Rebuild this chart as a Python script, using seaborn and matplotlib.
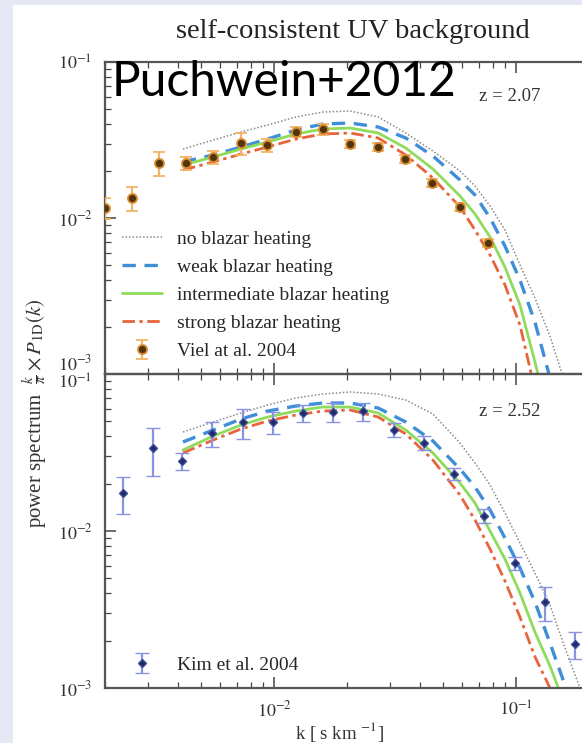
import math
import matplotlib
matplotlib.use("Agg")
import matplotlib.pyplot as plt
from matplotlib.patches import Rectangle
from matplotlib.ticker import LogLocator, NullFormatter, FixedLocator, FixedFormatter
import pandas as pd
import seaborn as sns

# ---------------- data ----------------
# wavenumber grid of the simulated 1D flux power spectra [s/km]
k_model = [0.0042, 0.0056, 0.0073, 0.0094, 0.0123, 0.0159, 0.0206, 0.0269, 0.0350, 0.0453,
           0.0586, 0.0676, 0.0780, 0.0899, 0.1037, 0.1196, 0.1380, 0.1591, 0.1836, 0.2118]

# z = 2.07
p207_none = [0.02768, 0.03162, 0.03557, 0.03947, 0.04441, 0.04779, 0.04850, 0.04441, 0.03506, 0.02688,
             0.02001, 0.01604, 0.01194, 0.00838, 0.00500, 0.00307, 0.00175, 0.000876, 0.000378, 0.00013]
p207_weak = [0.02286, 0.02534, 0.02851, 0.03209, 0.03664, 0.04005, 0.04064, 0.03831, 0.03257, 0.02497,
             0.01752, 0.01404, 0.01000, 0.00661, 0.00400, 0.00215, 0.000943, 0.000351, 0.00011, 0.00003]
p207_inter = [0.02186, 0.02460, 0.02768, 0.03071, 0.03455, 0.03718, 0.03774, 0.03506, 0.02810, 0.02061,
              0.01384, 0.01061, 0.00755, 0.00485, 0.00277, 0.001194, 0.000471, 0.00016, 0.00005, 0.00001]
p207_strong = [0.02031, 0.02286, 0.02572, 0.02851, 0.03209, 0.03455, 0.03506, 0.03257, 0.02534, 0.01805,
               0.01176, 0.00838, 0.00579, 0.00372, 0.00206, 0.000790, 0.000281, 0.00009, 0.00003, 0.00001]

# z = 2.52
p252_none = [0.04272, 0.04947, 0.05643, 0.06346, 0.07035, 0.07457, 0.07679, 0.07457, 0.06831, 0.05561,
             0.03635, 0.02710, 0.01963, 0.01302, 0.00839, 0.00540, 0.00338, 0.00180, 0.00100, 0.000502]
p252_weak = [0.03689, 0.04397, 0.05168, 0.05809, 0.06253, 0.06534, 0.06534, 0.06072, 0.04947, 0.03743,
             0.02483, 0.01906, 0.01361, 0.00902, 0.00581, 0.00353, 0.00193, 0.001045, 0.000502, 0.0002]
p252_inter = [0.03281, 0.04027, 0.04733, 0.05321, 0.05809, 0.06162, 0.06162, 0.05643, 0.04397, 0.03139,
              0.02021, 0.01508, 0.01000, 0.00663, 0.00403, 0.00227, 0.00138, 0.000779, 0.0003, 0.0001]
p252_strong = [0.03139, 0.03799, 0.04465, 0.05019, 0.05481, 0.05809, 0.05896, 0.05321, 0.04148, 0.02832,
               0.01695, 0.01175, 0.00768, 0.00480, 0.00283, 0.00158, 0.00100, 0.000540, 0.0002, 0.00007]

# Viel et al. 2004 (z = 2.07)
k_viel = [0.00200, 0.00259, 0.00334, 0.00433, 0.00558, 0.00727, 0.00938, 0.01232, 0.0159, 0.0206,
          0.0268, 0.0348, 0.0451, 0.0585, 0.0768]
p_viel = [0.01159, 0.01343, 0.02252, 0.02252, 0.02460, 0.03026, 0.02937, 0.03557, 0.03718, 0.02981,
          0.02851, 0.02388, 0.01677, 0.01176, 0.00691]
e_viel = [0.0018, 0.0024, 0.0040, 0.0021, 0.0023, 0.0048, 0.0027, 0.0027, 0.0029, 0.0018,
          0.0017, 0.0015, 0.0010, 0.0007, 0.0004]

# Kim et al. 2004 (z = 2.52)
k_kim = [0.00237, 0.00316, 0.00416, 0.00553, 0.00743, 0.00989, 0.01315, 0.0175, 0.0233, 0.0313,
         0.0416, 0.0553, 0.0736, 0.0989, 0.1315, 0.175]
p_kim = [0.01746, 0.0338, 0.0279, 0.0421, 0.0494, 0.0494, 0.0565, 0.0573, 0.0581, 0.0440,
         0.0364, 0.0231, 0.01247, 0.00625, 0.00353, 0.00191]
e_kim = [0.0046, 0.0115, 0.0035, 0.0077, 0.0108, 0.0078, 0.0070, 0.0081, 0.0077, 0.0044,
         0.0036, 0.0021, 0.00125, 0.00058, 0.00084, 0.00038]

model_names = ["no blazar heating", "weak blazar heating",
               "intermediate blazar heating", "strong blazar heating"]
y_ticks = [1e-3, 1e-2, 1e-1]
y_ticklabels = [r"$10^{-3}$", r"$10^{-2}$", r"$10^{-1}$"]
x_ticks = [1e-2, 1e-1]
x_ticklabels = [r"$10^{-2}$", r"$10^{-1}$"]

# ---------------- styling ----------------
sns.set_style("ticks")
plt.rcParams["font.family"] = ["Liberation Serif", "DejaVu Serif"]
plt.rcParams["mathtext.fontset"] = "stix"

styles = {
    "no blazar heating": dict(color="#8a8a8a", linestyle=(0, (1, 1.3)), linewidth=1.1),
    "weak blazar heating": dict(color="#3f8fd8", linestyle=(0, (4, 2.6)), linewidth=2.4),
    "intermediate blazar heating": dict(color="#8fdc5c", linestyle="-", linewidth=2.0),
    "strong blazar heating": dict(color="#e8643c", linestyle=(0, (4.5, 1.6, 1.2, 1.6)), linewidth=2.0),
}

W, H = 582, 743
fig = plt.figure(figsize=(W / 100, H / 100), dpi=100)
fig.patch.set_facecolor("white")

# slide margins
fig.add_artist(Rectangle((0, 0), 13 / W, 1, transform=fig.transFigure,
                         facecolor="#e6e8f5", edgecolor="none", zorder=0))
fig.add_artist(Rectangle((0, 1 - 5 / H), 1, 5 / H, transform=fig.transFigure,
                         facecolor="#e6e8f5", edgecolor="none", zorder=0))

xmin, xmax = 0.002, 0.25
dec_px = 242.0
width_px = math.log10(xmax / xmin) * dec_px
left = 105 / W
ax_top = fig.add_axes([left, 1 - 374 / H, width_px / W, 312 / H])
ax_bot = fig.add_axes([left, 1 - 688 / H, width_px / W, 314 / H])


def draw_models(ax, series):
    df = pd.DataFrame({"k": k_model})
    handles = []
    for name, vals in zip(model_names, series):
        df[name] = vals
        sns.lineplot(data=df, x="k", y=name, ax=ax, label=name, legend=False,
                     **styles[name])
        handles.append(ax.lines[-1])
    return handles


def style_axis(ax, show_x):
    ax.set_xscale("log")
    ax.set_yscale("log")
    ax.set_xlim(xmin, xmax)
    ax.set_ylim(1e-3, 1e-1)
    ax.xaxis.set_major_locator(FixedLocator(x_ticks))
    ax.xaxis.set_minor_locator(LogLocator(base=10, subs=range(2, 10), numticks=20))
    ax.yaxis.set_major_locator(FixedLocator(y_ticks))
    ax.yaxis.set_minor_locator(LogLocator(base=10, subs=range(2, 10), numticks=20))
    ax.xaxis.set_minor_formatter(NullFormatter())
    ax.yaxis.set_minor_formatter(NullFormatter())
    ax.yaxis.set_major_formatter(FixedFormatter(y_ticklabels))
    if show_x:
        ax.xaxis.set_major_formatter(FixedFormatter(x_ticklabels))
    else:
        ax.xaxis.set_major_formatter(NullFormatter())
    ax.tick_params(which="both", direction="in", top=True, right=True, colors="#444444",
                   labelcolor="#333333", labelsize=13, pad=9)
    ax.tick_params(which="major", length=8, width=1.1)
    ax.tick_params(which="minor", length=4, width=0.9)
    for s in ax.spines.values():
        s.set_color("#555555")
        s.set_linewidth(1.6)
    ax.set_xlabel("")
    ax.set_ylabel("")
    ax.set_facecolor("none")


leg_kw = dict(frameon=False, fontsize=14, handlelength=2.05, handletextpad=0.78,
              borderpad=0, borderaxespad=0, bbox_transform=fig.transFigure, loc="upper left")

# top panel: z = 2.07
h_models = draw_models(ax_top, [p207_none, p207_weak, p207_inter, p207_strong])
h_viel = ax_top.errorbar(k_viel, p_viel, yerr=e_viel, fmt="o", ms=6.5, mfc="#4f3510",
                         mec="#d98a2b", mew=1.3, ecolor="#f2b466", elinewidth=1.6,
                         capsize=4, capthick=1.6, zorder=5)
style_axis(ax_top, show_x=False)
ax_top.legend(h_models + [h_viel], model_names + ["Viel at al. 2004"],
              bbox_to_anchor=(122 / W, 1 - 230 / H), labelspacing=0.54, **leg_kw)
ax_top.text(0.858, 0.888, "z = 2.07", transform=ax_top.transAxes, fontsize=13.5,
            color="#333333", ha="right", va="center")

# bottom panel: z = 2.52
draw_models(ax_bot, [p252_none, p252_weak, p252_inter, p252_strong])
h_kim = ax_bot.errorbar(k_kim, p_kim, yerr=e_kim, fmt="D", ms=4.5, mfc="#1f2c66",
                        mec="#3d4c9c", mew=1.0, ecolor="#8a92e2", elinewidth=1.6,
                        capsize=5, capthick=1.6, zorder=5)
style_axis(ax_bot, show_x=True)
ax_bot.legend([h_kim], ["Kim et al. 2004"], bbox_to_anchor=(122 / W, 1 - 656 / H), **leg_kw)
ax_bot.text(0.858, 0.879, "z = 2.52", transform=ax_bot.transAxes, fontsize=13.5,
            color="#333333", ha="right", va="center")

# keep the shared 10^-3 / 10^-1 labels at the panel joint apart
fig.canvas.draw()
ax_top.yaxis.get_major_ticks()[0].label1.set_verticalalignment("bottom")
ax_bot.yaxis.get_major_ticks()[2].label1.set_verticalalignment("top")

# titles and axis labels
fig.text(353 / W, 1 - 32 / H, "self-consistent UV background", fontsize=20.5,
         color="#222222", ha="center", va="center")
fig.text(112 / W, 1 - 82 / H, "Puchwein+2012", fontsize=34.5, family=["Lato", "DejaVu Sans"],
         color="black", ha="left", va="center", zorder=10)
fig.text(35 / W, 1 - 413 / H, r"power spectrum  $\frac{k}{\pi}\times P_{\rm 1D}(k)$",
         fontsize=15, color="#333333", rotation=90, ha="center", va="center")
fig.text(340 / W, 1 - 732 / H, r"k [ s km $^{-1}$]", fontsize=13.5, color="#333333",
         ha="center", va="center")

fig.savefig("out.png", dpi=100)
